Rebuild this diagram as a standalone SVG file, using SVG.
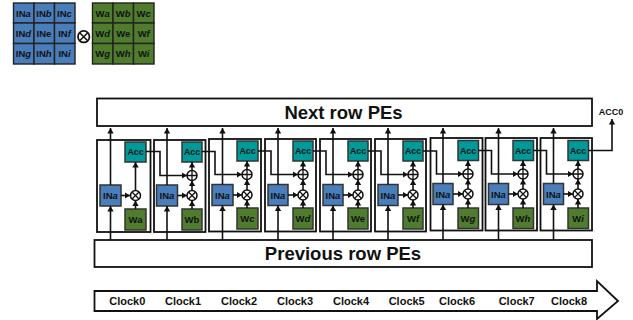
<svg xmlns="http://www.w3.org/2000/svg" width="633" height="320" viewBox="0 0 633 320">
<style>
text{font-family:"Liberation Sans",Arial,sans-serif;font-weight:700;fill:#111;text-anchor:middle}
.c{stroke:#222;stroke-width:1.4}
.b{fill:#4a7ebb}.g{fill:#4f7d2d}.t{fill:#009a9a}
.n{stroke:#333;stroke-width:1.5}
.f{fill:#fff;stroke:#111;stroke-width:1.8}
.m{font-size:9.5px}
.e{font-size:8.8px}
.k{font-size:11px}
.o{font-size:9px}
.h{font-size:18.5px}
.l{fill:none;stroke:#111;stroke-width:1.6}
.a{marker-end:url(#ah)}
.i{font-style:italic}
</style>
<defs>
<marker id="ah" markerUnits="userSpaceOnUse" markerWidth="7" markerHeight="7" refX="5.5" refY="3.5" orient="auto"><path d="M0 .3L5.5 3.5L0 6.7Z" fill="#111"/></marker>
<g id="ot"><circle r="5" fill="#fff" stroke="#111" stroke-width="1.5"/><path d="M-3.5-3.5L3.5 3.5M-3.5 3.5L3.5-3.5" stroke="#111" stroke-width="1.3"/></g>
<g id="pl"><circle r="5" fill="#fff" stroke="#111" stroke-width="1.5"/><path d="M-5 0H5M0-5V5" stroke="#111" stroke-width="1.3"/></g>
</defs>

<g id="matrix-in">
<rect class="b c" x="13.5" y="3" width="20.5" height="20"/><rect class="b c" x="34" y="3" width="20.5" height="20"/><rect class="b c" x="54.5" y="3" width="20.5" height="20"/>
<rect class="b c" x="13.5" y="23" width="20.5" height="20.5"/><rect class="b c" x="34" y="23" width="20.5" height="20.5"/><rect class="b c" x="54.5" y="23" width="20.5" height="20.5"/>
<rect class="b c" x="13.5" y="43.5" width="20.5" height="20.5"/><rect class="b c" x="34" y="43.5" width="20.5" height="20.5"/><rect class="b c" x="54.5" y="43.5" width="20.5" height="20.5"/>
<text class="m" x="23.5" y="16.5">IN<tspan class="i">a</tspan></text><text class="m" x="44" y="16.5">IN<tspan class="i">b</tspan></text><text class="m" x="64.5" y="16.5">IN<tspan class="i">c</tspan></text>
<text class="m" x="23.5" y="36.5">IN<tspan class="i">d</tspan></text><text class="m" x="44" y="36.5">INe</text><text class="m" x="64.5" y="36.5">IN<tspan class="i">f</tspan></text>
<text class="m" x="23.5" y="57">IN<tspan class="i">g</tspan></text><text class="m" x="44" y="57">IN<tspan class="i">h</tspan></text><text class="m" x="64.5" y="57">IN<tspan class="i">i</tspan></text>
</g>
<g id="op"><use href="#ot" transform="translate(83.7 36.7) scale(1.15)"/></g>
<g id="matrix-w">
<rect class="g c" x="92.5" y="3" width="20.5" height="20"/><rect class="g c" x="113" y="3" width="20.5" height="20"/><rect class="g c" x="133.5" y="3" width="20.5" height="20"/>
<rect class="g c" x="92.5" y="23" width="20.5" height="20.5"/><rect class="g c" x="113" y="23" width="20.5" height="20.5"/><rect class="g c" x="133.5" y="23" width="20.5" height="20.5"/>
<rect class="g c" x="92.5" y="43.5" width="20.5" height="20.5"/><rect class="g c" x="113" y="43.5" width="20.5" height="20.5"/><rect class="g c" x="133.5" y="43.5" width="20.5" height="20.5"/>
<text class="m" x="102.7" y="16.5">W<tspan class="i">a</tspan></text><text class="m" x="123.2" y="16.5">W<tspan class="i">b</tspan></text><text class="m" x="143.7" y="16.5">W<tspan class="i">c</tspan></text>
<text class="m" x="102.7" y="36.5">W<tspan class="i">d</tspan></text><text class="m" x="123.2" y="36.5">We</text><text class="m" x="143.7" y="36.5">W<tspan class="i">f</tspan></text>
<text class="m" x="102.7" y="57">W<tspan class="i">g</tspan></text><text class="m" x="123.2" y="57">W<tspan class="i">h</tspan></text><text class="m" x="143.7" y="57">W<tspan class="i">i</tspan></text>
</g>

<g id="next-row"><rect class="f" x="97" y="98.5" width="495" height="27.5"/><text class="h" x="343.5" y="119">Next row PEs</text></g>
<g id="prev-row"><rect class="f" x="94.5" y="240" width="497.5" height="27"/><text class="h" x="343" y="260">Previous row PEs</text></g>

<g id="pe0"><rect class="f" x="97" y="140" width="53.5" height="92"/>
<rect class="t n" x="125" y="142" width="21" height="20"/><text class="e" x="135.5" y="155.3">Acc</text>
<rect class="b n" x="100" y="185" width="21" height="21"/><text class="m" x="110.5" y="199">IN<tspan class="i">a</tspan></text>
<rect class="g n" x="125" y="209" width="21" height="21"/><text class="m" x="135.5" y="223">Wa</text></g>
<g id="pe1"><rect class="f" x="154" y="140" width="51.5" height="92"/>
<rect class="t n" x="182" y="142" width="20" height="20"/><text class="e" x="192" y="155.3">Acc</text>
<rect class="b n" x="156.5" y="185" width="21" height="21"/><text class="m" x="167" y="199">IN<tspan class="i">a</tspan></text>
<rect class="g n" x="182" y="209" width="20" height="21"/><text class="m" x="192" y="223">Wb</text></g>
<g id="pe2"><rect class="f" x="209" y="139" width="52" height="92.5"/>
<rect class="t n" x="237" y="141" width="21" height="20"/><text class="e" x="247.5" y="154.3">Acc</text>
<rect class="b n" x="212" y="184.5" width="21" height="21"/><text class="m" x="222.5" y="198.5">IN<tspan class="i">a</tspan></text>
<rect class="g n" x="237" y="208" width="21" height="21"/><text class="m" x="247.5" y="222">W<tspan class="i">c</tspan></text></g>
<g id="pe3"><rect class="f" x="265" y="139" width="51" height="92.5"/>
<rect class="t n" x="293" y="141" width="20" height="20"/><text class="e" x="303" y="154.3">Acc</text>
<rect class="b n" x="268" y="184.5" width="20" height="21"/><text class="m" x="278" y="198.5">IN<tspan class="i">a</tspan></text>
<rect class="g n" x="293" y="208" width="20" height="21"/><text class="m" x="303" y="222">W<tspan class="i">d</tspan></text></g>
<g id="pe4"><rect class="f" x="320" y="139" width="51" height="92.5"/>
<rect class="t n" x="348" y="141" width="20" height="20"/><text class="e" x="358" y="154.3">Acc</text>
<rect class="b n" x="323" y="184.5" width="20" height="21"/><text class="m" x="333" y="198.5">IN<tspan class="i">a</tspan></text>
<rect class="g n" x="348" y="208" width="20" height="21"/><text class="m" x="358" y="222">We</text></g>
<g id="pe5"><rect class="f" x="375" y="139" width="51" height="92.5"/>
<rect class="t n" x="403" y="141" width="20" height="20"/><text class="e" x="413" y="154.3">Acc</text>
<rect class="b n" x="378" y="184.5" width="20" height="21"/><text class="m" x="388" y="198.5">IN<tspan class="i">a</tspan></text>
<rect class="g n" x="403" y="208" width="20" height="21"/><text class="m" x="413" y="222">W<tspan class="i">f</tspan></text></g>
<g id="pe6"><rect class="f" x="430.5" y="138" width="52" height="92.5"/>
<rect class="t n" x="458" y="140.5" width="20.5" height="20"/><text class="e" x="468" y="153.8">Acc</text>
<rect class="b n" x="433" y="183.5" width="20" height="21"/><text class="m" x="443" y="197.5">IN<tspan class="i">a</tspan></text>
<rect class="g n" x="458" y="208" width="20.5" height="20.5"/><text class="m" x="468" y="221.5">W<tspan class="i">g</tspan></text></g>
<g id="pe7"><rect class="f" x="485.5" y="138" width="51.5" height="92.5"/>
<rect class="t n" x="513" y="140.5" width="20.5" height="20"/><text class="e" x="523" y="153.8">Acc</text>
<rect class="b n" x="488.5" y="183.5" width="20" height="21"/><text class="m" x="498.5" y="197.5">IN<tspan class="i">a</tspan></text>
<rect class="g n" x="513" y="208" width="20.5" height="20.5"/><text class="m" x="523" y="221.5">W<tspan class="i">h</tspan></text></g>
<g id="pe8"><rect class="f" x="540.5" y="138" width="51.5" height="92.5"/>
<rect class="t n" x="568" y="140.5" width="20.5" height="20"/><text class="e" x="578" y="153.8">Acc</text>
<rect class="b n" x="543.5" y="183.5" width="20" height="21"/><text class="m" x="553.5" y="197.5">IN<tspan class="i">a</tspan></text>
<rect class="g n" x="568" y="208" width="20.5" height="20.5"/><text class="m" x="578" y="221.5">W<tspan class="i">i</tspan></text></g>

<g id="connectors">
<path class="l a" d="M110.5 240V206"/><path class="l a" d="M110.5 185V128"/><path class="l a" d="M121 195.5H130"/><path class="l a" d="M135.5 209V200.5"/><path class="l a" d="M135.5 190.5V162"/>
<path class="l a" d="M167 240V206"/><path class="l a" d="M167 185V128"/><path class="l a" d="M177.5 195.5H187"/><path class="l a" d="M192 209V200.5"/><path class="l a" d="M192 190.5V180.5"/><path class="l a" d="M192 170.5V162"/><path class="l a" d="M146 151.5H160V175.5H187"/>
<path class="l a" d="M222.5 240V205.5"/><path class="l a" d="M222.5 184.5V128"/><path class="l a" d="M233 195H242"/><path class="l a" d="M247 208V200"/><path class="l a" d="M247 190V179.5"/><path class="l a" d="M247 169.5V161"/><path class="l a" d="M202 151.5H215V174.5H242"/>
<path class="l a" d="M278 240V205.5"/><path class="l a" d="M278 184.5V128"/><path class="l a" d="M288 195H298"/><path class="l a" d="M303 208V200"/><path class="l a" d="M303 190V179.5"/><path class="l a" d="M303 169.5V161"/><path class="l a" d="M258 151H271V174.5H298"/>
<path class="l a" d="M333 240V205.5"/><path class="l a" d="M333 184.5V128"/><path class="l a" d="M343 195H353"/><path class="l a" d="M358 208V200"/><path class="l a" d="M358 190V179.5"/><path class="l a" d="M358 169.5V161"/><path class="l a" d="M313 151H326V174.5H353"/>
<path class="l a" d="M388 240V205.5"/><path class="l a" d="M388 184.5V128"/><path class="l a" d="M398 195H408"/><path class="l a" d="M413 208V200"/><path class="l a" d="M413 190V179.5"/><path class="l a" d="M413 169.5V161"/><path class="l a" d="M368 151H381V174.5H408"/>
<path class="l a" d="M443 240V204.5"/><path class="l a" d="M443 183.5V128"/><path class="l a" d="M453 194H463"/><path class="l a" d="M468 208V199"/><path class="l a" d="M468 189V179"/><path class="l a" d="M468 169V160.5"/><path class="l a" d="M423 151H436.5V174H463"/>
<path class="l a" d="M498.5 240V204.5"/><path class="l a" d="M498.5 183.5V128"/><path class="l a" d="M508.5 194H518"/><path class="l a" d="M523 208V199"/><path class="l a" d="M523 189V179"/><path class="l a" d="M523 169V160.5"/><path class="l a" d="M478.5 150.5H491.5V174H518"/>
<path class="l a" d="M553.5 240V204.5"/><path class="l a" d="M553.5 183.5V128"/><path class="l a" d="M563.5 194H573"/><path class="l a" d="M578 208V199"/><path class="l a" d="M578 189V179"/><path class="l a" d="M578 169V160.5"/><path class="l a" d="M533.5 150.5H546.5V174H573"/>
<path class="l a" d="M588.5 150.5H612V119"/>
</g>
<g id="ops">
<use href="#ot" x="135.5" y="195.5"/>
<use href="#ot" x="192" y="195.5"/><use href="#pl" x="192" y="175.5"/>
<use href="#ot" x="247" y="195"/><use href="#pl" x="247" y="174.5"/>
<use href="#ot" x="303" y="195"/><use href="#pl" x="303" y="174.5"/>
<use href="#ot" x="358" y="195"/><use href="#pl" x="358" y="174.5"/>
<use href="#ot" x="413" y="195"/><use href="#pl" x="413" y="174.5"/>
<use href="#ot" x="468" y="194"/><use href="#pl" x="468" y="174"/>
<use href="#ot" x="523" y="194"/><use href="#pl" x="523" y="174"/>
<use href="#ot" x="578" y="194"/><use href="#pl" x="578" y="174"/>
</g>
<text class="o" x="611" y="115">ACC0</text>

<g id="clock">
<path class="f" d="M94.5 291H597V281L618 301L597 319V311H94.5Z"/>
<text class="k" x="127.3" y="305">Clock0</text><text class="k" x="183" y="305">Clock1</text><text class="k" x="239" y="305">Clock2</text><text class="k" x="295" y="305">Clock3</text><text class="k" x="351" y="305">Clock4</text><text class="k" x="406.7" y="305">Clock5</text><text class="k" x="457" y="305">Clock6</text><text class="k" x="516.7" y="305">Clock7</text><text class="k" x="569" y="305">Clock8</text>
</g>
</svg>
